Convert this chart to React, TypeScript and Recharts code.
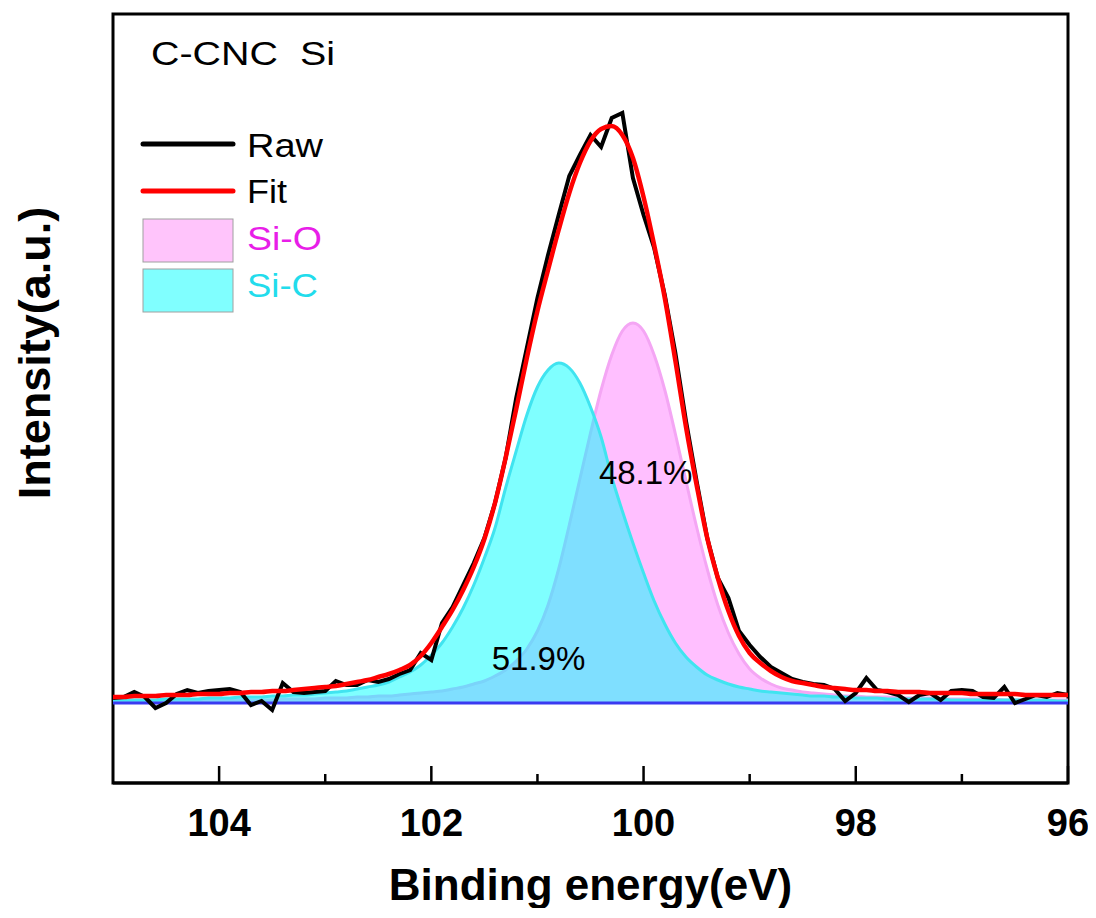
import {
  Area,
  ComposedChart,
  Legend,
  Line,
  ReferenceArea,
  ReferenceDot,
  ReferenceLine,
  XAxis,
  YAxis,
} from 'recharts';

const FONT = '"Liberation Sans", Arial, sans-serif';

// binding energy (eV), 0.1 eV steps
const energies = [
  105.0, 104.9, 104.8, 104.7, 104.6, 104.5, 104.4, 104.3, 104.2, 104.1,
  104.0, 103.9, 103.8, 103.7, 103.6, 103.5, 103.4, 103.3, 103.2, 103.1,
  103.0, 102.9, 102.8, 102.7, 102.6, 102.5, 102.4, 102.3, 102.2, 102.1,
  102.0, 101.9, 101.8, 101.7, 101.6, 101.5, 101.4, 101.3, 101.2, 101.1,
  101.0, 100.9, 100.8, 100.7, 100.6, 100.5, 100.4, 100.3, 100.2, 100.1,
  100.0, 99.9, 99.8, 99.7, 99.6, 99.5, 99.4, 99.3, 99.2, 99.1,
  99.0, 98.9, 98.8, 98.7, 98.6, 98.5, 98.4, 98.3, 98.2, 98.1,
  98.0, 97.9, 97.8, 97.7, 97.6, 97.5, 97.4, 97.3, 97.2, 97.1,
  97.0, 96.9, 96.8, 96.7, 96.6, 96.5, 96.4, 96.3, 96.2, 96.1,
  96.0,
];

const raw = [
  5, 6, 11, 6, -5, 0, 9, 13, 10, 12,
  13, 14, 11, -2, 2, -7, 20, 11, 10, 11,
  12, 22, 18, 18, 23, 21, 24, 29, 33, 50,
  43, 80, 96, 118, 140, 165, 200, 245, 305, 355,
  405, 448, 488, 527, 548, 568, 556, 585, 590, 525,
  488, 455, 408, 350, 282, 222, 165, 125, 105, 72,
  58, 46, 36, 30, 24, 21, 19, 18, 14, 2,
  10, 25, 13, 11, 8, 1, 8, 10, 3, 12,
  13, 12, 6, 5, 16, 0, 4, 8, 6, 10,
  8,
];

const fit = [
  6, 6, 7, 7, 7, 8, 8, 8, 9, 9,
  9, 10, 10, 11, 11, 12, 12, 13, 14, 15,
  16, 17, 19, 21, 23, 26, 29, 33, 38, 47,
  60, 76, 93, 113, 136, 164, 200, 245, 294, 345,
  392, 433, 473, 510, 540, 562, 574, 577, 568, 545,
  506, 458, 405, 342, 276, 218, 165, 125, 92, 67,
  50, 40, 32, 26, 22, 20, 18, 16, 15, 14,
  13, 13, 12, 12, 11, 11, 11, 10, 10, 10,
  10, 9, 9, 9, 9, 9, 8, 8, 8, 8,
  8,
];

const siO = [
  2, 2, 2, 2, 2, 2, 2, 2, 2, 3,
  3, 3, 3, 3, 3, 3, 4, 4, 4, 4,
  5, 5, 5, 6, 6, 7, 7, 8, 9, 10,
  11, 12, 14, 16, 19, 22, 27, 33, 42, 54,
  72, 98, 134, 178, 224, 270, 313, 348, 372, 380,
  372, 348, 313, 269, 222, 176, 134, 98, 70, 49,
  34, 25, 19, 15, 13, 11, 10, 9, 8, 7,
  7, 6, 6, 6, 5, 5, 5, 5, 4, 4,
  4, 4, 4, 4, 3, 3, 3, 3, 3, 3,
  3,
];

const siC = [
  3, 3, 3, 3, 3, 4, 4, 4, 4, 5,
  5, 5, 6, 6, 6, 7, 7, 8, 8, 9,
  10, 11, 12, 14, 16, 18, 21, 26, 31, 38,
  48, 60, 76, 95, 118, 145, 175, 215, 252, 288,
  316, 333, 340, 335, 320, 296, 266, 226, 192, 160,
  130, 102, 79, 60, 46, 36, 28, 23, 19, 16,
  14, 12, 11, 10, 9, 8, 7, 7, 6, 6,
  5, 5, 5, 4, 4, 4, 4, 4, 4, 3,
  3, 3, 3, 3, 3, 3, 3, 3, 3, 2,
  2,
];

const xTicks = [104, 103, 102, 101, 100, 99, 98, 97, 96];
const shares = ['48.1%', '51.9%'];

const data = energies.map((e, i) => ({
  e,
  raw: raw[i],
  fit: fit[i],
  siO: siO[i],
  siC: siC[i],
}));

function BottomTick(props: any) {
  const { x, y, payload } = props;
  const major = payload.value % 2 === 0;
  return (
    <g>
      <line x1={x} x2={x} y1={y} y2={y - (major ? 17 : 9)} stroke="#000" strokeWidth={2.5} />
      {major && (
        <text
          x={x}
          y={y + 53}
          textAnchor="middle"
          fontSize={38}
          fontWeight="bold"
          fontFamily={FONT}
          fill="#000"
        >
          {payload.value}
        </text>
      )}
    </g>
  );
}

function YTitle() {
  return (
    <text
      transform="translate(42, 345) rotate(-90)"
      textAnchor="middle"
      fontSize={45}
      fontWeight="bold"
      fontFamily={FONT}
      fill="#000"
    >
      Intensity(a.u.)
    </text>
  );
}

function LegendBox() {
  const txt = { fontSize: 33, fontFamily: FONT };
  return (
    <svg width={260} height={310} style={{ overflow: 'visible' }}>
      <text x={23} y={47} {...txt} fill="#000" style={{ whiteSpace: 'pre' }} textLength={184} lengthAdjust="spacingAndGlyphs">
        {'C-CNC  Si'}
      </text>
      <line x1={15} x2={105} y1={126} y2={126} stroke="#000" strokeWidth={5} strokeLinecap="round" />
      <text x={119} y={139} {...txt} fill="#000" textLength={76} lengthAdjust="spacingAndGlyphs">Raw</text>
      <line x1={15} x2={105} y1={173} y2={173} stroke="#ff0000" strokeWidth={5} strokeLinecap="round" />
      <text x={119} y={185} {...txt} fill="#000" textLength={40} lengthAdjust="spacingAndGlyphs">Fit</text>
      <rect x={15} y={201} width={90} height={43} fill="#ffc4fb" stroke="#a0a0a0" strokeWidth={1} />
      <text x={119} y={232} {...txt} fill="#e81ee8" textLength={75} lengthAdjust="spacingAndGlyphs">Si-O</text>
      <rect x={15} y={251} width={90} height={43} fill="#80ffff" stroke="#a0a0a0" strokeWidth={1} />
      <text x={119} y={279} {...txt} fill="#22dcec" textLength={71} lengthAdjust="spacingAndGlyphs">Si-C</text>
    </svg>
  );
}

export default function App() {
  return (
    <div style={{ position: 'relative', width: 1080, height: 900 }}>
      <ComposedChart
        width={1080}
        height={900}
        data={data}
        margin={{ top: 6, right: 20, bottom: 25, left: 104 }}
        style={{ fontFamily: FONT }}
      >
        <XAxis
          dataKey="e"
          type="number"
          domain={[96, 105]}
          reversed
          ticks={xTicks}
          interval={0}
          tick={<BottomTick />}
          tickLine={false}
          tickSize={0}
          tickMargin={0}
          height={100}
          axisLine={{ stroke: '#000', strokeWidth: 3 }}
          label={{
            value: 'Binding energy(eV)',
            position: 'insideTop',
            offset: 86,
            fontSize: 44,
            fontWeight: 'bold',
            fill: '#000',
            fontFamily: FONT,
          }}
        />
        <YAxis
          domain={[-80, 689]}
          tick={false}
          tickLine={false}
          width={1}
          allowDataOverflow
          axisLine={false}
          label={{ content: <YTitle /> }}
        />
        <ReferenceArea
          x1={105}
          x2={96}
          y1={-80}
          y2={689}
          fill="none"
          stroke="#000"
          strokeWidth={3}
          ifOverflow="extendDomain"
        />
        <ReferenceLine y={0} stroke="#3a3af0" strokeWidth={3} />
        <Area
          dataKey="siO"
          type="monotone"
          baseValue={0}
          fill="#ff00ff"
          fillOpacity={0.25}
          stroke="#f4a6f4"
          strokeWidth={3}
          isAnimationActive={false}
        />
        <Area
          dataKey="siC"
          type="monotone"
          baseValue={0}
          fill="#00ffff"
          fillOpacity={0.5}
          stroke="#40e4f0"
          strokeWidth={3}
          isAnimationActive={false}
        />
        <Line
          dataKey="raw"
          type="linear"
          stroke="#000"
          strokeWidth={4}
          dot={false}
          isAnimationActive={false}
        />
        <Line
          dataKey="fit"
          type="monotone"
          stroke="#ff0000"
          strokeWidth={4.5}
          dot={false}
          isAnimationActive={false}
        />
        <ReferenceDot
          x={99.98}
          y={231}
          r={0}
          fill="none"
          stroke="none"
          label={{ value: shares[0], position: 'center', fontSize: 33, fill: '#000', fontFamily: FONT }}
        />
        <ReferenceDot
          x={100.99}
          y={45}
          r={0}
          fill="none"
          stroke="none"
          label={{ value: shares[1], position: 'center', fontSize: 33, fill: '#000', fontFamily: FONT }}
        />
        <Legend
          layout="vertical"
          align="center"
          verticalAlign="middle"
          content={<LegendBox />}
          wrapperStyle={{ left: 120, top: 10, width: 260, height: 310 }}
        />
      </ComposedChart>
    </div>
  );
}
